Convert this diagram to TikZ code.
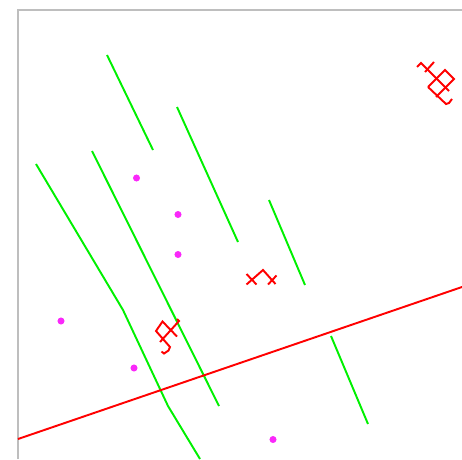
\documentclass[tikz,border=0pt]{standalone}
\usepackage{xcolor}
\usepackage{tikz}
\usetikzlibrary{calc,positioning}
\definecolor{segGreen}{RGB}{0,240,0}
\definecolor{sepRed}{RGB}{255,0,0}
\definecolor{ptMagenta}{RGB}{250,40,250}
\definecolor{frameGray}{RGB}{190,190,190}

\begin{document}
\begin{tikzpicture}[x=0.02cm, y=-0.02cm,
  greenseg/.style={segGreen, line width=1.1pt},
  redseg/.style={sepRed, line width=1.1pt},
  framed/.style={frameGray, line width=1.1pt}]
\useasboundingbox (0,0) rectangle (462,459);
\draw[framed] (18,459) -- (18,10) -- (462,10);
% green segments
\draw[greenseg] (107,55) -- (153,150);
\draw[greenseg] (177,107) -- (238,242);
\draw[greenseg] (269,200) -- (305,285);
\draw[greenseg] (36,164) -- (123,310) -- (168,406) -- (200,459);
\draw[greenseg] (92,151) -- (219,406);
\draw[greenseg] (331,336) -- (368,424);
% separating line
\draw[redseg] (18,439) -- (462,287);
% red marks
\draw[redseg] (417,67) -- (421,63) -- (449,91);
\draw[redseg] (434,62) -- (425,72);
\draw[redseg] (428,87) -- (445,70) -- (454,79) -- (436,97);
\draw[redseg] (428,87) -- (446,104) -- (449,103) -- (452,99);
\draw[redseg] (246.5,284.5) -- (263,270) -- (275.5,284);
\draw[redseg] (246.5,274) -- (256.5,284.5);
\draw[redseg] (268,284.5) -- (276.5,275.5);
\draw[redseg] (177,336.5) -- (162.5,321.5) -- (156,331) -- (170,347) -- (168.5,350.5) -- (164,353.5) -- (161.5,351.5);
\draw[redseg] (160,342) -- (179,321) -- (177,319);
% points
\foreach \x/\y in {136.5/178,178/214.5,178/254.5,61/321,134/368,273/439.5}
{
\fill[ptMagenta] (\x,\y) circle (2pt);
}
\end{tikzpicture}
\end{document}
